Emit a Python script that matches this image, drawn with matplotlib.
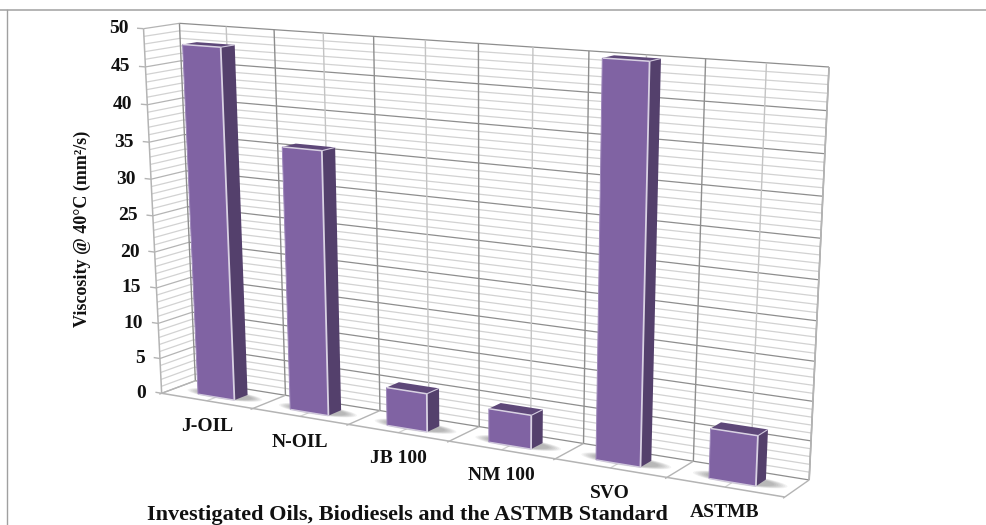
import numpy as np
import matplotlib
matplotlib.use("Agg")
import matplotlib.pyplot as plt
from matplotlib.patches import Polygon

categories = ["J-OIL", "N-OIL", "JB 100", "NM 100", "SVO", "ASTMB"]
viscosity = [48.0, 35.7, 5.2, 4.5, 50.0, 6.4]
y_ticks = [0, 5, 10, 15, 20, 25, 30, 35, 40, 45, 50]

W, H = 987, 525
SERIF = "Liberation Serif"

# camera calibration: (category pos, depth, value) -> pixel
world = np.array([[0, 1, 0], [6, 1, 0], [6, 1, 50], [0, 1, 50],
                  [0, 0, 0], [6, 0, 0], [0, 0, 50]], float)
pix = np.array([[195, 381], [809, 480], [829, 67], [180, 23],
                [162, 393], [785, 497], [143, 29]], float)
A = []
b = []
for (u, d, v), (x, y) in zip(world, pix):
    A.append([u, d, v, 1, 0, 0, 0, 0, -x*u, -x*d, -x*v])
    b.append(x)
    A.append([0, 0, 0, 0, u, d, v, 1, -y*u, -y*d, -y*v])
    b.append(y)
P = np.linalg.lstsq(np.array(A), np.array(b), rcond=None)[0]
P = np.append(P, 1).reshape(3, 4)


def proj(u, d, v):
    q = P @ np.array([u, d, v, 1.0])
    return q[0] / q[2], q[1] / q[2]


fig = plt.figure(figsize=(W / 100, H / 100), dpi=100)
ax = fig.add_axes([0, 0, 1, 1])
ax.set_xlim(0, W)
ax.set_ylim(H, 0)
ax.axis("off")


def seg(a, b, color, lw=1.0, z=1):
    p, q = proj(*a), proj(*b)
    ax.plot([p[0], q[0]], [p[1], q[1]], color=color, lw=lw, zorder=z,
            solid_capstyle="butt")


def face(pts, color, z, **kw):
    ax.add_patch(Polygon([proj(*p) for p in pts], closed=True, facecolor=color,
                         edgecolor="none", zorder=z, **kw))


DARK, MID, LIGHT = "#8e8e8e", "#b4b4b4", "#d2d2d2"

# outer frame
ax.plot([0, W], [10, 10], color="#a8a8a8", lw=1.2, zorder=0)
ax.plot([7, 7], [10, H], color="#a0a0a0", lw=1.0, zorder=0)

# value gridlines on both walls
for v in range(0, 51):
    major = v % 5 == 0
    seg((0, 1, v), (6, 1, v), DARK if major else LIGHT, 0.9)
    seg((0, 0, v), (0, 1, v), MID if major else LIGHT, 0.9)

# vertical lines on back wall, floor lines
for i in range(13):
    u = i / 2
    major = i % 2 == 0
    seg((u, 1, 0), (u, 1, 50), DARK if major else "#c4c4c4", 1.0)
    if major:
        seg((u, 0, 0), (u, 1, 0), MID, 1.0)
        seg((u, 0, 0), (u, -0.07, 0), MID, 1.0)
    else:
        seg((u, 0, 0), (u, 1, 0), LIGHT, 0.9)
seg((0, 0, 0), (6, 0, 0), MID, 1.1)
seg((0, 0, 0), (0, 0, 50), MID, 1.1)
seg((6, 1, 0), (6, 1, 50), MID, 1.2)

# y tick stubs and labels
for t in y_ticks:
    seg((0, 0, t), (-0.07, 0, t), MID, 1.0)
    x, y = proj(0, 0, t)
    ax.annotate(str(t), (x, y), xytext=(-11, 0), textcoords="offset points",
                ha="right", va="center", family=SERIF, weight="bold",
                fontsize=14, color="#111111")

# bars
U0, U1 = 0.30, 0.70
D0, D1 = 0.28, 0.68
for i, (name, val) in enumerate(zip(categories, viscosity)):
    a, b_ = i + U0, i + U1
    # soft floor shadow
    uc, dc = (a + b_) / 2 + 0.02, (D0 + D1) / 2
    for k in np.linspace(1.0, 0.72, 7):
        th = np.linspace(0, 2 * np.pi, 60)
        pts = [(uc + k * 0.40 * np.cos(t), dc + k * 0.27 * np.sin(t), 0) for t in th]
        face(pts, "#555555", 3, alpha=0.07)
    face([(a, D0, 0), (b_, D0, 0), (b_, D0, val), (a, D0, val)], "#8063a3", 6)
    face([(b_, D0, 0), (b_, D1, 0), (b_, D1, val), (b_, D0, val)], "#54406c", 5)
    face([(a, D0, val), (b_, D0, val), (b_, D1, val), (a, D1, val)], "#5e4879", 5)
    seg((a, D0, val), (b_, D0, val), "#d9d2e3", 1.1, 7)
    seg((b_, D0, 0), (b_, D0, val), "#d9d2e3", 1.3, 7)
    seg((a, D0, 0), (b_, D0, 0), "#cfc7dc", 1.0, 7)
    seg((a, D0, 0), (a, D0, val), "#9d87ba", 0.7, 7)
    seg((b_, D0, val), (b_, D1, val), "#cfc7dc", 0.8, 7)
    x, y = proj(i + 0.5, 0, 0)
    ax.annotate(name, (x, y), xytext=(0, -18.5), textcoords="offset points",
                ha="center", va="center", family=SERIF, weight="bold",
                fontsize=14, color="#111111")

ax.text(82, 229, "Viscosity @ 40\u00b0C (mm\u00b2/s)", rotation=90, ha="center",
        va="center", family=SERIF, weight="bold", fontsize=13, color="#111111")
ax.text(407, 515, "Investigated Oils, Biodiesels and the ASTMB Standard",
        ha="center", va="center", family=SERIF, weight="bold", fontsize=16,
        color="#111111")

fig.savefig("out.png", dpi=100)
